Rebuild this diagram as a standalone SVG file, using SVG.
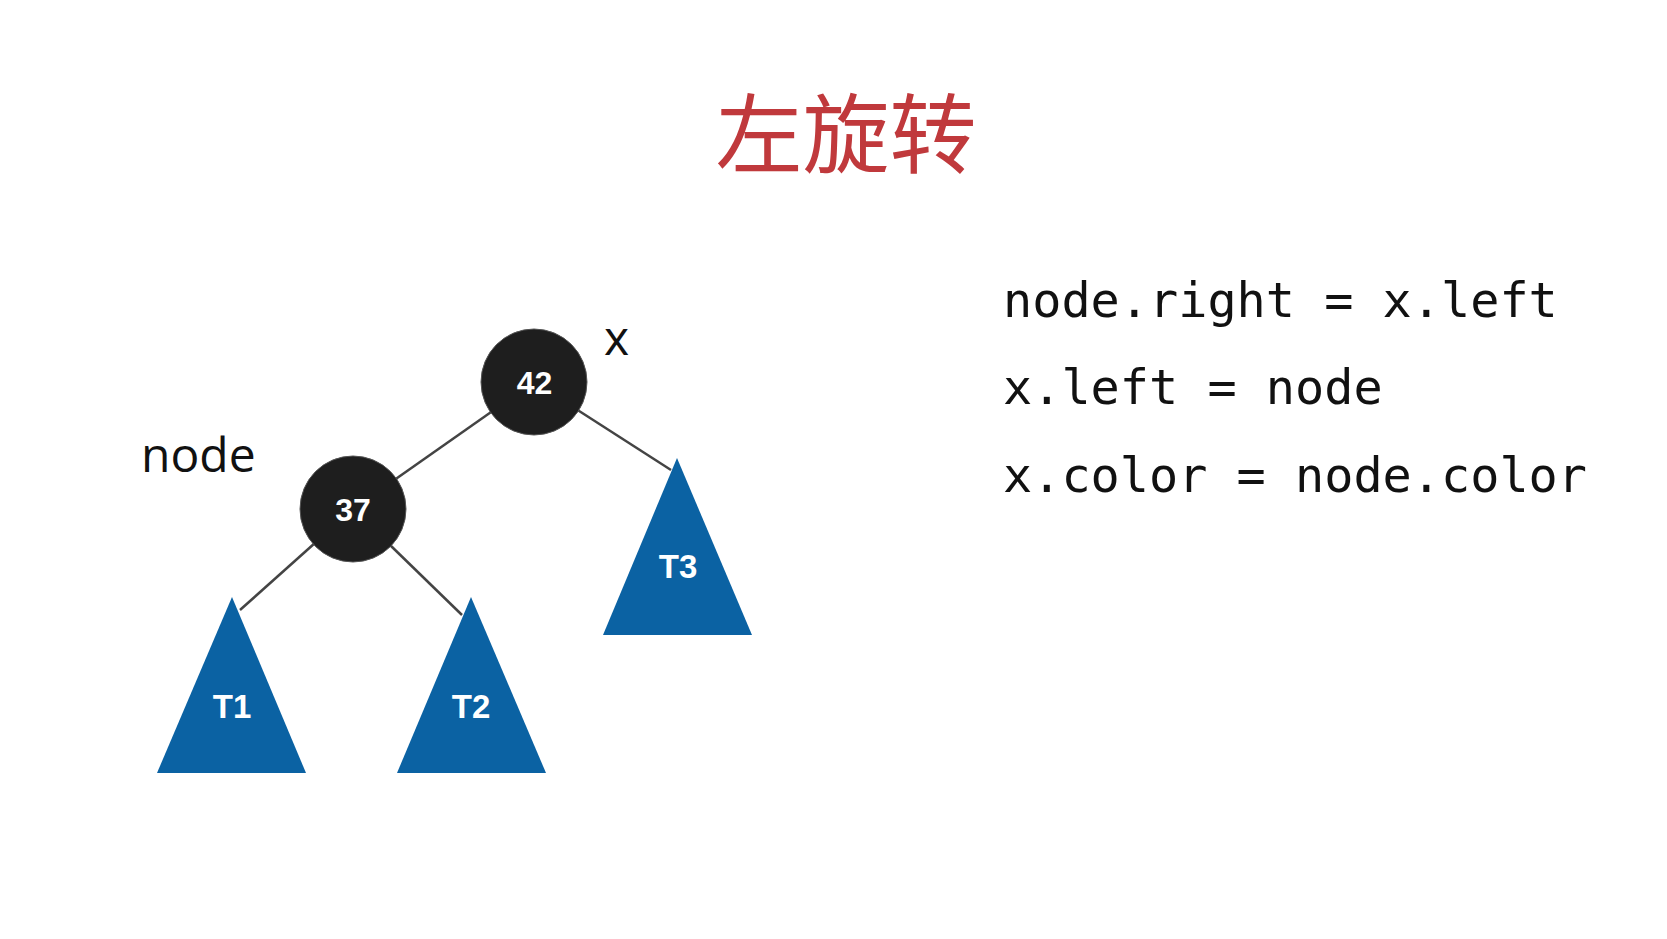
<svg xmlns="http://www.w3.org/2000/svg" width="1667" height="939" viewBox="0 0 1667 939">
  <style>
    .title { font-family: "Noto Sans CJK SC", "Noto Sans", sans-serif; font-size: 87px; fill: #c0393c; }
    .edge { stroke: #444; stroke-width: 2.5; fill: none; }
    .circ { fill: #1e1e1e; stroke: #555; stroke-width: 1; }
    .num { font-family: "Liberation Sans", Arial, sans-serif; font-weight: bold; font-size: 32px; fill: #fff; text-anchor: middle; }
    .tri { fill: #0b62a3; }
    .tlab { font-family: "Liberation Sans", Arial, sans-serif; font-weight: bold; font-size: 33px; fill: #fff; text-anchor: middle; }
    .lab { font-family: "Open Sans", "Noto Sans", sans-serif; font-size: 48px; fill: #111; }
    .code { font-family: "DejaVu Sans Mono", "Liberation Mono", monospace; font-size: 48.5px; fill: #111; }
  </style>
  <rect width="1667" height="939" fill="#ffffff"/>
  <text class="title" x="846" y="167" text-anchor="middle">左旋转</text>

  <g id="connectors">
    <line class="edge" x1="534" y1="382" x2="353" y2="509"/>
    <line class="edge" x1="534" y1="382" x2="671" y2="470"/>
    <line class="edge" x1="353" y1="509" x2="240" y2="610"/>
    <line class="edge" x1="353" y1="509" x2="462" y2="615"/>
  </g>

  <g id="node42">
    <circle class="circ" cx="534" cy="382" r="53"/>
    <text class="num" x="534.5" y="394">42</text>
  </g>
  <g id="node37">
    <circle class="circ" cx="353" cy="509" r="53"/>
    <text class="num" x="353" y="521">37</text>
  </g>
  <g id="T1">
    <polygon class="tri" points="232,597 157,773 306,773"/>
    <text class="tlab" x="232" y="718">T1</text>
  </g>
  <g id="T2">
    <polygon class="tri" points="471,597 397,773 546,773"/>
    <text class="tlab" x="471" y="718">T2</text>
  </g>
  <g id="T3">
    <polygon class="tri" points="677,458 603,635 752,635"/>
    <text class="tlab" x="678" y="578">T3</text>
  </g>

  <g id="labels">
    <text class="lab" x="141" y="472">node</text>
    <text class="lab" x="604" y="355">x</text>
  </g>

  <g id="code">
    <text class="code" x="1003" y="317">node.right = x.left</text>
    <text class="code" x="1003" y="404">x.left = node</text>
    <text class="code" x="1003" y="492">x.color = node.color</text>
  </g>
</svg>
